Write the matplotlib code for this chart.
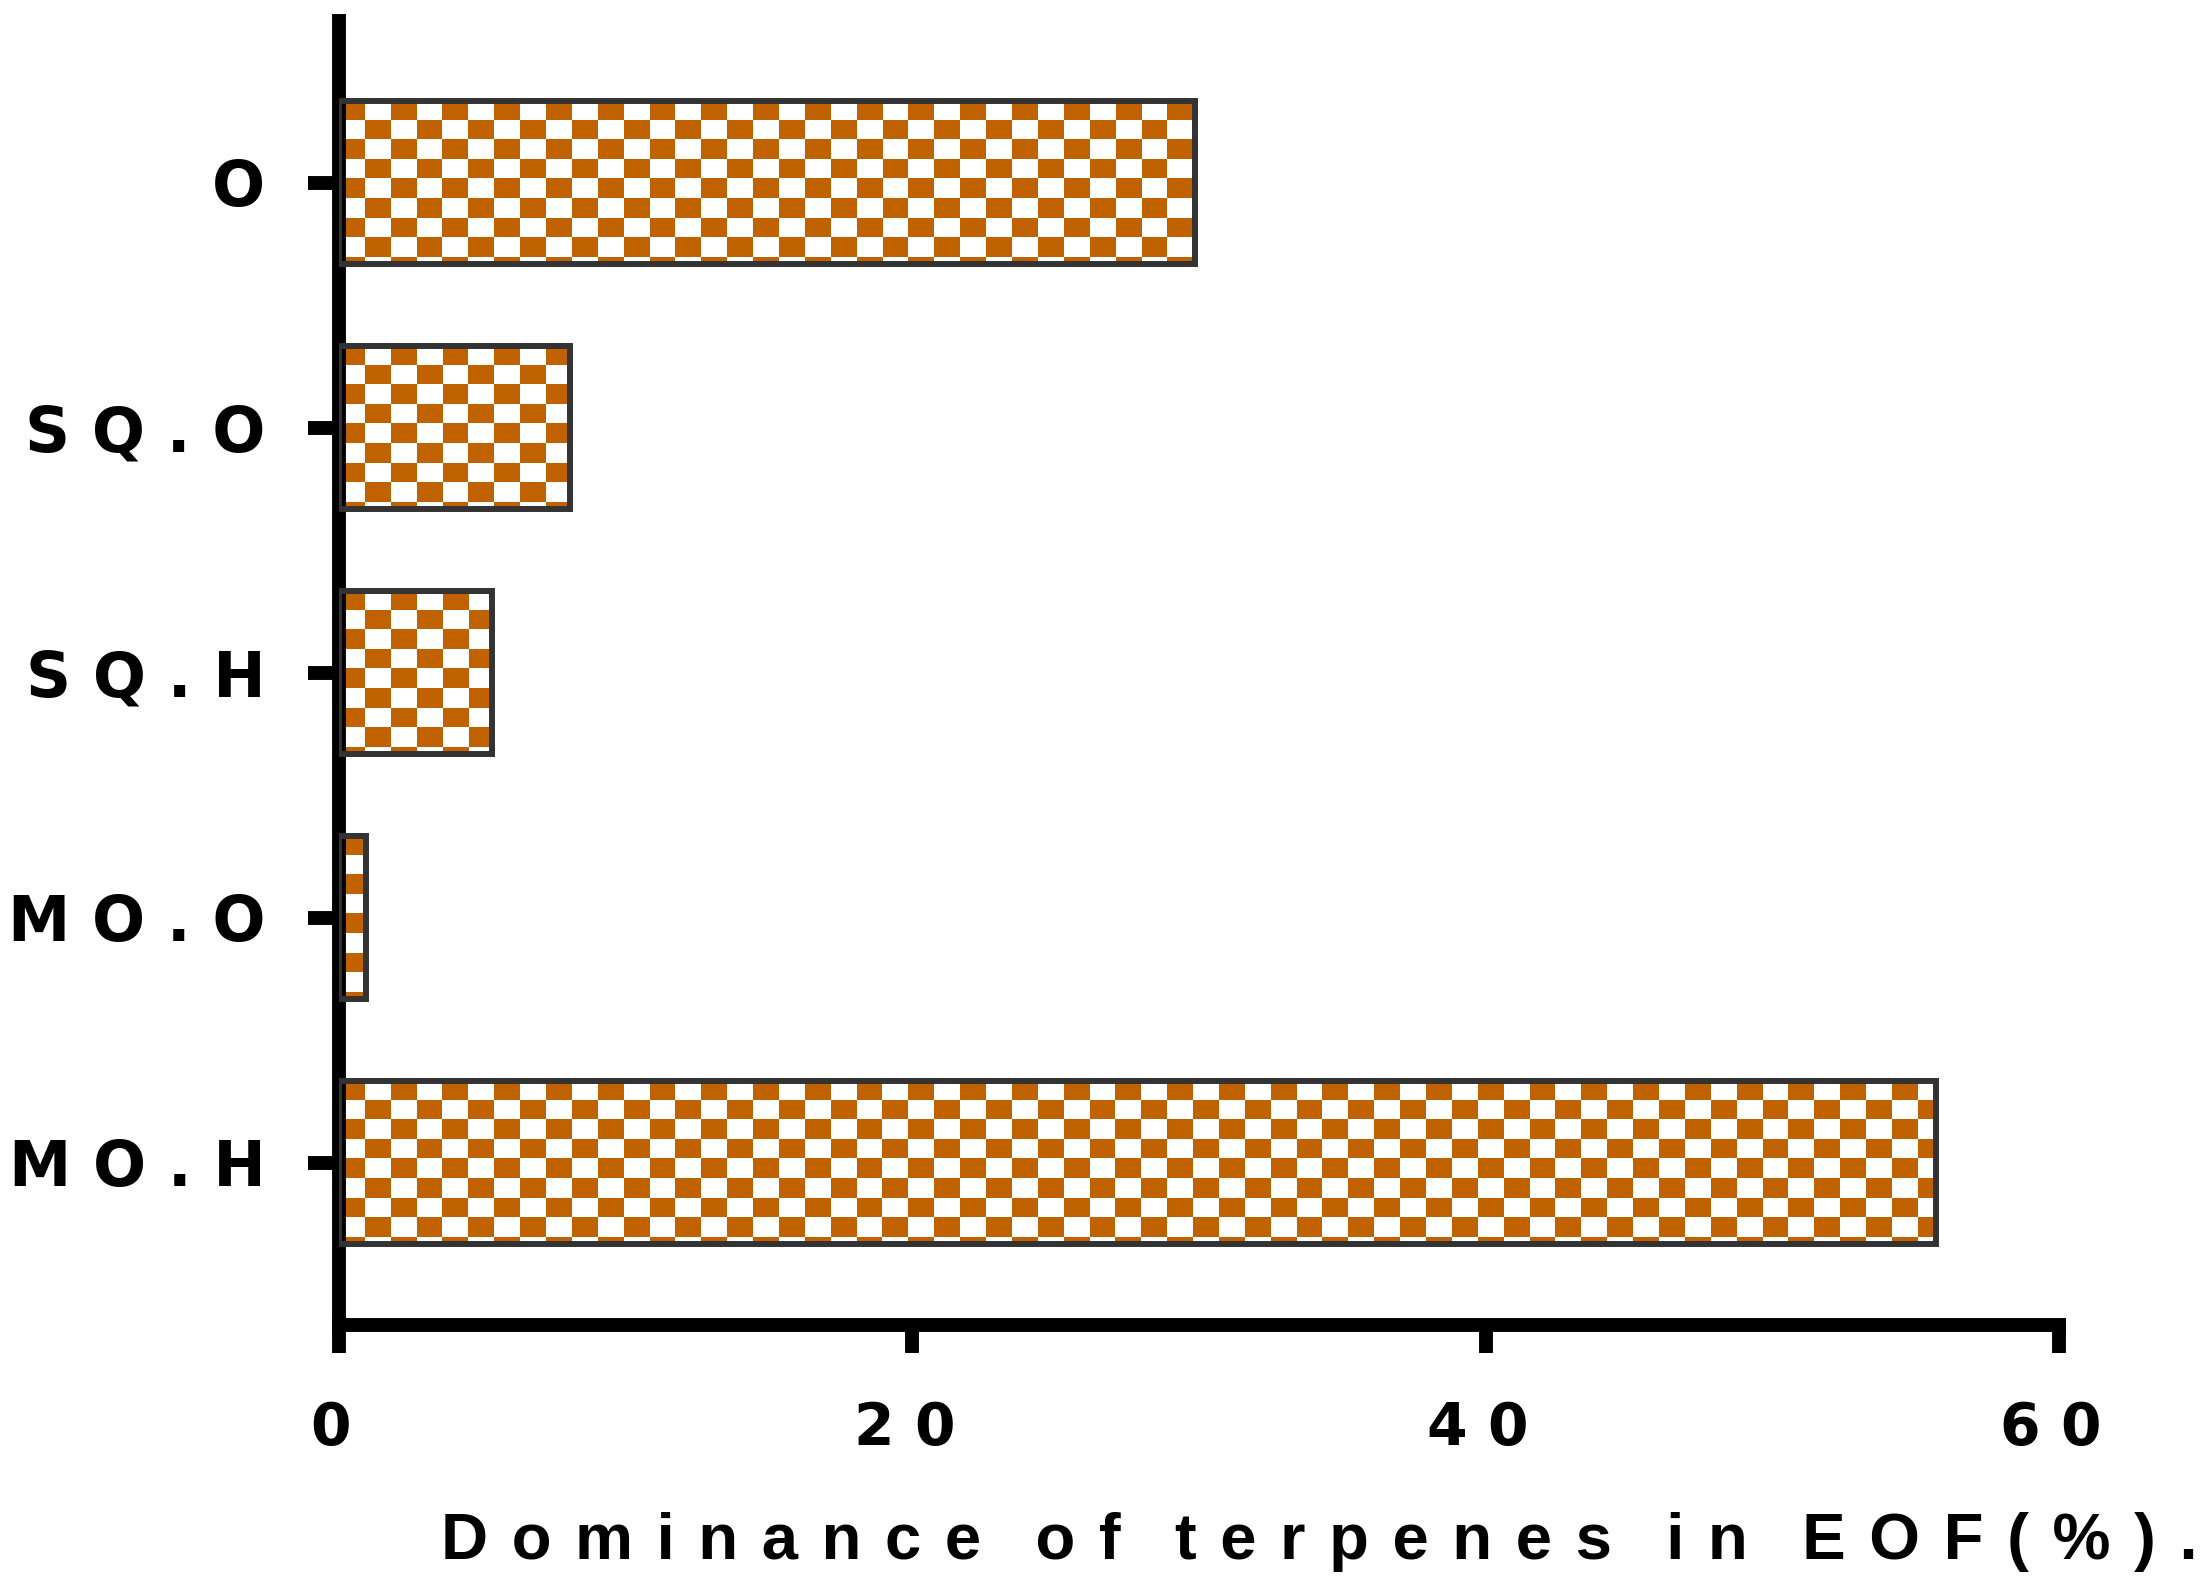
import numpy as np
import matplotlib.pyplot as plt
import matplotlib.transforms as mtransforms

# data
categories = ['M O . H', 'M O . O', 'S Q . H', 'S Q . O', 'O']
values = [55.7, 0.94, 5.35, 8.05, 29.85]
xticks = [0, 20, 40, 60]
xtick_labels = ['0', '2 0', '4 0', '6 0']
xlabel_words = ['Dominance', 'of', 'terpenes', 'in', 'EOF(%).']

orange = np.array([193, 98, 0]) / 255.0
white = np.array([1.0, 1.0, 1.0])
edge = '#333333'

fig = plt.figure(figsize=(22.07, 15.85), dpi=100)
ax = fig.add_axes([0.1536, 0.16435, 0.77934, 0.8224])

ypos = np.arange(len(categories))
bars = ax.barh(ypos, values, height=0.666, facecolor='none', edgecolor=edge,
               linewidth=4.3, zorder=3)

# checkerboard fill, cells about 26 x 19.5 px
cell_w = 25.88 / (1720 / 60)
cell_h = 19.5 / 245.0
for bar in bars:
    w = bar.get_width()
    h = bar.get_height()
    y_top = bar.get_y() + h
    ncol = int(np.ceil(w / cell_w))
    nrow = int(np.ceil(h / cell_h))
    ii, jj = np.indices((nrow, ncol))
    img = np.where(((ii + jj) % 2 == 0)[..., None], orange, white)
    im = ax.imshow(img, extent=[0, ncol * cell_w, y_top - nrow * cell_h, y_top],
                   origin='upper', interpolation='nearest', aspect='auto', zorder=2)
    im.set_clip_path(bar)

ax.set_xlim(0, 60)
ax.set_ylim(-0.66, 4.66)

for s in ['top', 'right']:
    ax.spines[s].set_visible(False)
for s in ['left', 'bottom']:
    ax.spines[s].set_linewidth(10)
    ax.spines[s].set_color('black')

ax.set_yticks(ypos)
ax.set_yticklabels(categories, fontsize=45, fontweight='bold', family='DejaVu Sans')
ax.set_xticks(xticks)
ax.set_xticklabels(xtick_labels, fontsize=42, fontweight='bold', family='DejaVu Sans')
ax.tick_params(axis='y', length=22, width=10, pad=31)
ax.tick_params(axis='x', length=20, width=10, pad=34)

# x tick labels sit a little left of their ticks in the reference
shift = mtransforms.ScaledTranslation(-8 / 100, 0, fig.dpi_scale_trans)
for lab in ax.get_xticklabels():
    lab.set_transform(lab.get_transform() + shift)

# letter-spaced axis title
xlabel = '   '.join(' \u200a'.join(wd) for wd in xlabel_words)
fig.text(0.598, 1 - 1559 / 1585, xlabel, ha='center', va='baseline',
         fontsize=47, fontweight='bold', family='Liberation Sans')

fig.savefig('out.png', dpi=100)
